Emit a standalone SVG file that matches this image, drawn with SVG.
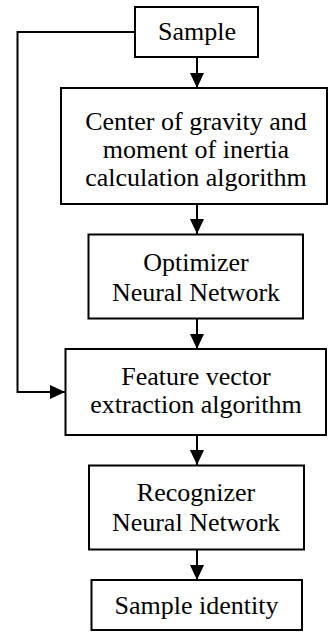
<svg xmlns="http://www.w3.org/2000/svg" width="328" height="632" viewBox="0 0 328 632">
  <style>
    .box { fill: #ffffff; stroke: #000000; stroke-width: 2; }
    .lbl { font-family: "Liberation Serif", "Times New Roman", serif; font-size: 26px; fill: #000000; text-anchor: middle; }
    .wire { fill: none; stroke: #000000; stroke-width: 2; }
  </style>
  <defs>
    <marker id="arrow" markerWidth="15" markerHeight="14" refX="15" refY="7" orient="auto" markerUnits="userSpaceOnUse">
      <path d="M0,0 L15,7 L0,14 Z" fill="#000000"/>
    </marker>
  </defs>
  <rect width="328" height="632" fill="#ffffff"/>

  <!-- connectors -->
  <g id="connectors">
    <line class="wire" x1="197" y1="57" x2="197" y2="88" marker-end="url(#arrow)"/>
    <line class="wire" x1="197" y1="204" x2="197" y2="234" marker-end="url(#arrow)"/>
    <line class="wire" x1="197" y1="319" x2="197" y2="349" marker-end="url(#arrow)"/>
    <line class="wire" x1="197" y1="435" x2="197" y2="465" marker-end="url(#arrow)"/>
    <line class="wire" x1="197" y1="549" x2="197" y2="580" marker-end="url(#arrow)"/>
    <polyline class="wire" points="135,32 17.5,32 17.5,392 65,392" marker-end="url(#arrow)"/>
  </g>

  <g id="sample">
    <rect class="box" x="135" y="7" width="123" height="50"/>
    <text class="lbl" x="197" y="40">Sample</text>
  </g>

  <g id="center-of-gravity">
    <rect class="box" x="61" y="88" width="266" height="116"/>
    <text class="lbl" x="196" y="130">Center of gravity and</text>
    <text class="lbl" x="196" y="158">moment of inertia</text>
    <text class="lbl" x="196" y="186">calculation algorithm</text>
  </g>

  <g id="optimizer">
    <rect class="box" x="88.5" y="234.5" width="214.5" height="84"/>
    <text class="lbl" x="196" y="271">Optimizer</text>
    <text class="lbl" x="196" y="301">Neural Network</text>
  </g>

  <g id="feature-vector">
    <rect class="box" x="65.5" y="349" width="260.5" height="86"/>
    <text class="lbl" x="196" y="385">Feature vector</text>
    <text class="lbl" x="196" y="413">extraction algorithm</text>
  </g>

  <g id="recognizer">
    <rect class="box" x="89" y="465.5" width="215" height="84"/>
    <text class="lbl" x="196" y="501">Recognizer</text>
    <text class="lbl" x="196" y="531">Neural Network</text>
  </g>

  <g id="sample-identity">
    <rect class="box" x="91.5" y="580" width="210.5" height="50"/>
    <text class="lbl" x="196.5" y="614">Sample identity</text>
  </g>
</svg>
